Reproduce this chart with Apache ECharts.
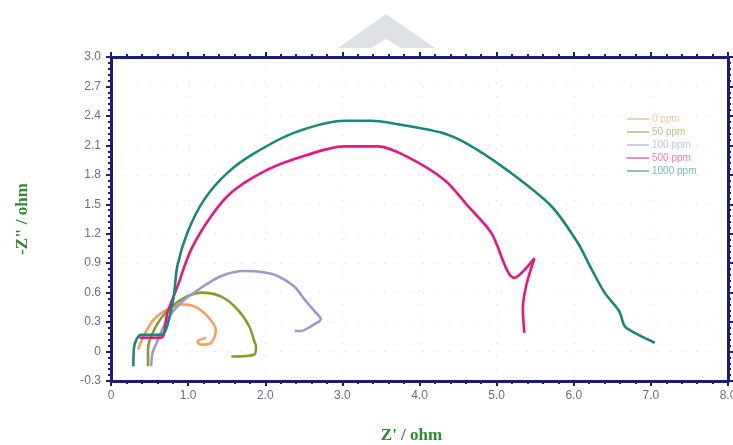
<!DOCTYPE html>
<html lang="en">
<head>
    <meta charset="UTF-8">
    <title>Nyquist</title>
    <script src="https://cdn.jsdelivr.net/npm/echarts@6.0.0/dist/echarts.min.js"></script>
    <style>
        html, body { margin: 0; padding: 0; background: #fff; }
    </style>
</head>
<body>
<div id="chart" style="width: 733px;height:445px;"></div>
<script>
    // Z' / Z'' pairs
    var ppm0 = [[0.35, 0.02], [0.43, 0.17], [0.56, 0.33], [0.73, 0.43], [0.91, 0.48], [1.08, 0.46],
        [1.25, 0.36], [1.36, 0.22], [1.30, 0.09], [1.17, 0.07], [1.12, 0.10], [1.23, 0.14]];
    var ppm50 = [[0.48, -0.15], [0.48, 0.02], [0.54, 0.19], [0.69, 0.38], [0.91, 0.53], [1.17, 0.60],
        [1.43, 0.56], [1.64, 0.43], [1.79, 0.26], [1.86, 0.10], [1.88, 0.05], [1.86, -0.03], [1.56, -0.05]];
    var ppm100 = [[0.52, -0.15], [0.54, -0.01], [0.61, 0.12], [0.73, 0.33], [0.91, 0.50], [1.17, 0.65],
        [1.43, 0.77], [1.73, 0.82], [1.95, 0.81], [2.16, 0.77], [2.38, 0.66], [2.51, 0.53], [2.64, 0.41],
        [2.72, 0.33], [2.64, 0.28], [2.46, 0.21], [2.38, 0.21]];
    var ppm500 = [[0.37, 0.14], [0.65, 0.14], [0.73, 0.39], [0.86, 0.66], [1.04, 1.04], [1.30, 1.38],
        [1.56, 1.62], [1.95, 1.82], [2.38, 1.96], [3.03, 2.09], [3.46, 2.09], [3.80, 2.00], [4.32, 1.75],
        [4.63, 1.48], [4.93, 1.21], [5.23, 0.75], [5.49, 0.95], [5.38, 0.66], [5.34, 0.43], [5.36, 0.19]];
    var ppm1000 = [[0.29, -0.15], [0.30, 0.05], [0.39, 0.17], [0.65, 0.17], [0.80, 0.50], [0.86, 0.87],
        [0.99, 1.21], [1.21, 1.55], [1.51, 1.82], [1.86, 2.02], [2.38, 2.23], [3.03, 2.35], [3.37, 2.35],
        [3.76, 2.31], [4.28, 2.23], [4.63, 2.11], [5.15, 1.84], [5.71, 1.48], [6.05, 1.11], [6.23, 0.84],
        [6.40, 0.60], [6.59, 0.41], [6.66, 0.26], [6.79, 0.19], [7.05, 0.09]];

    var names = ['0 ppm', '50 ppm', '100 ppm', '500 ppm', '1000 ppm'];
    var colors = ['#f4a160', '#8c9a2c', '#9a9acb', '#e8167f', '#1a8878'];
    var seriesData = [ppm0, ppm50, ppm100, ppm500, ppm1000];

    var navy = '#1c1c7a';
    var labelColor = '#6c6c86';

    function fmt(v) {
        var r = Math.round(v * 10) / 10;
        return r === 0 ? '0' : r.toFixed(1);
    }

    var chart = echarts.init(document.getElementById('chart'));
    chart.setOption({
        animation: false,
        grid: {left: 111, right: 5, top: 57, bottom: 64, outerBoundsMode: 'none'},
        legend: {
            orient: 'vertical',
            left: 622,
            top: 109,
            itemWidth: 22,
            itemHeight: 2,
            itemGap: 3,
            icon: 'rect',
            data: names.map(function (n, i) {
                return {name: n, itemStyle: {opacity: 0.5}, textStyle: {color: colors[i], opacity: 0.6}};
            }),
            textStyle: {fontFamily: 'Liberation Sans', fontSize: 10, padding: [0, 0, 0, -2]}
        },
        graphic: [{
            type: 'polygon',
            shape: {points: [[338, 48], [386, 14], [435, 48], [401, 48], [386, 39], [371, 48]]},
            style: {fill: '#dde1e6'},
            z: -1
        }],
        xAxis: [{
            type: 'value', min: 0, max: 8, interval: 1,
            name: "Z' / ohm", nameLocation: 'middle', nameGap: 46,
            nameTextStyle: {fontFamily: 'Liberation Serif', fontWeight: 'bold', fontSize: 17, color: '#2e8b2e', padding: [0, 16, 0, 0]},
            axisLine: {onZero: false, lineStyle: {color: navy, width: 3}},
            axisTick: {lineStyle: {color: navy, width: 2}, length: 5},
            minorTick: {show: true, splitNumber: 5, length: 3, lineStyle: {color: navy, width: 2}},
            axisLabel: {color: labelColor, fontFamily: 'Liberation Sans', fontSize: 12, margin: 9, formatter: fmt},
            splitLine: {show: true, lineStyle: {color: '#d8d8d8', type: [1, 12], width: 1}}
        }, {
            type: 'value', min: 0, max: 8, interval: 1, position: 'top',
            axisLine: {onZero: false, lineStyle: {color: navy, width: 3}},
            axisTick: {lineStyle: {color: navy, width: 2}, length: 5},
            minorTick: {show: true, splitNumber: 5, length: 3, lineStyle: {color: navy, width: 2}},
            axisLabel: {show: false},
            splitLine: {show: false}
        }],
        yAxis: [{
            type: 'value', min: -0.3, max: 3.0, interval: 0.3,
            name: '-Z" / ohm', nameLocation: 'middle', nameGap: 80,
            nameTextStyle: {fontFamily: 'Liberation Serif', fontWeight: 'bold', fontSize: 17, color: '#2e8b2e'},
            axisLine: {onZero: false, lineStyle: {color: navy, width: 3}},
            axisTick: {lineStyle: {color: navy, width: 2}, length: 5},
            minorTick: {show: true, splitNumber: 5, length: 3, lineStyle: {color: navy, width: 2}},
            axisLabel: {color: labelColor, fontFamily: 'Liberation Sans', fontSize: 12, margin: 10, formatter: fmt},
            splitLine: {show: true, lineStyle: {color: '#d8d8d8', type: [1, 12], width: 1}}
        }, {
            type: 'value', min: -0.3, max: 3.0, interval: 0.3, position: 'right',
            axisLine: {onZero: false, lineStyle: {color: navy, width: 3}},
            axisTick: {lineStyle: {color: navy, width: 2}, length: 5},
            minorTick: {show: true, splitNumber: 5, length: 3, lineStyle: {color: navy, width: 2}},
            axisLabel: {show: false},
            splitLine: {show: false}
        }],
        series: seriesData.map(function (d, i) {
            return {
                name: names[i],
                type: 'line',
                data: d,
                smooth: 0.3,
                showSymbol: false,
                color: colors[i],
                lineStyle: {width: 2.6, color: colors[i]}
            };
        })
    });
</script>
</body>
</html>
